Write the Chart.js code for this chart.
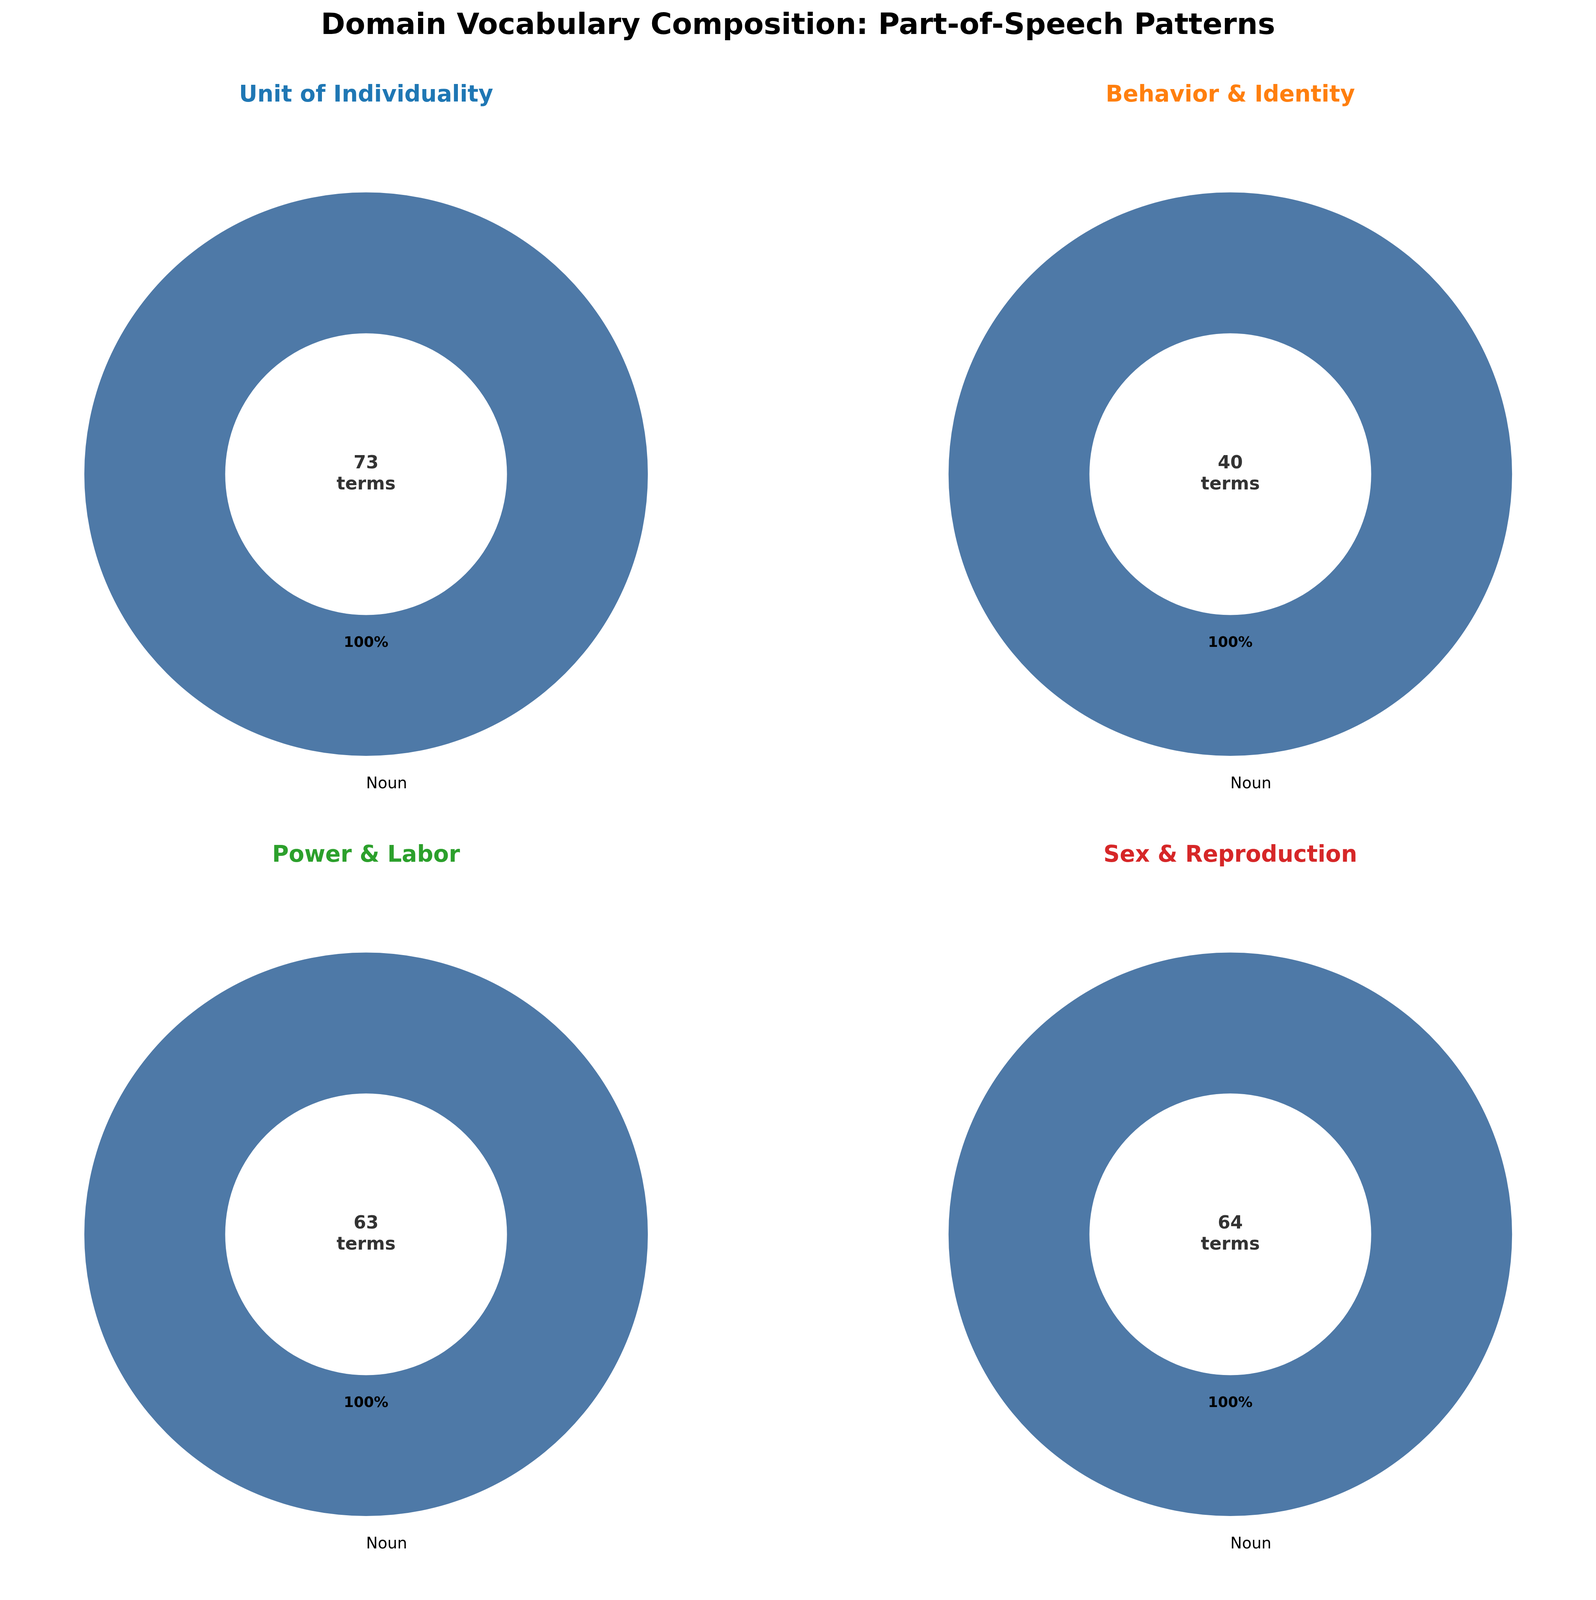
<!DOCTYPE html>
<html>
<head>
<meta charset="utf-8">
<script src="https://cdn.jsdelivr.net/npm/chart.js@4.4.1/dist/chart.umd.min.js"></script>
<style>
  html, body { margin: 0; padding: 0; background: #ffffff; }
  #page { position: relative; width: 4085px; height: 6045px; background: #ffffff; overflow: hidden; }
  #mainTitle {
    position: absolute; left: 0; top: 16px; width: 4085px; text-align: center;
    font-family: "DejaVu Sans", sans-serif; font-weight: bold; font-size: 75px; line-height: 90px; color: #000;
  }
  .panel { position: absolute; width: 1860px; height: 1946px; }
</style>
</head>
<body>
<div id="page">
  <div id="mainTitle">Domain Vocabulary Composition: Part-of-Speech Patterns</div>
</div>
<script>
// data
const domains = ['Unit of Individuality', 'Behavior & Identity', 'Power & Labor',
                 'Sex & Reproduction', 'Kin & Relatedness', 'Economics'];
const domainColors = ['#1f77b4', '#ff7f0e', '#2ca02c', '#d62728', '#9467bd', '#8c564b'];
const posLabels = ['Noun'];
const nounCounts = [73, 40, 63, 64, 57, 10];
const posColors = ['#4e79a7'];

// layout of the 3x2 grid (panel centres)
const colCenters = [937, 3149];
const rowTitleY = [245, 2191, 4137];

// draws the percentage, the outside label and the total in the hole
const donutLabels = {
  id: 'donutLabels',
  afterDatasetsDraw(chart) {
    const ctx = chart.ctx;
    const meta = chart.getDatasetMeta(0);
    const values = chart.data.datasets[0].data;
    const total = values.reduce((a, b) => a + b, 0);
    let cx = 0, cy = 0;
    meta.data.forEach((arc, i) => {
      const p = arc.getProps(['x', 'y', 'startAngle', 'endAngle', 'outerRadius'], true);
      cx = p.x; cy = p.y;
      const mid = (p.startAngle + p.endAngle) / 2;
      const pct = (values[i] / total * 100).toFixed(0) + '%';
      ctx.save();
      ctx.fillStyle = '#000';
      ctx.font = 'bold 37px "DejaVu Sans"';
      ctx.textAlign = 'center';
      ctx.textBaseline = 'middle';
      ctx.fillText(pct, p.x + Math.cos(mid) * p.outerRadius * 0.6, p.y + Math.sin(mid) * p.outerRadius * 0.6);
      const lx = p.x + Math.cos(mid) * p.outerRadius * 1.1;
      const ly = p.y + Math.sin(mid) * p.outerRadius * 1.1;
      ctx.font = '40px "DejaVu Sans"';
      ctx.textAlign = lx >= p.x - 0.5 ? 'left' : 'right';
      ctx.fillText(chart.data.labels[i], lx, ly);
      ctx.restore();
    });
    ctx.save();
    ctx.fillStyle = '#333333';
    ctx.font = 'bold 46px "DejaVu Sans"';
    ctx.textAlign = 'center';
    ctx.textBaseline = 'middle';
    ctx.fillText(String(total), cx, cy - 27);
    ctx.fillText('terms', cx, cy + 27);
    ctx.restore();
  }
};

const page = document.getElementById('page');
domains.forEach((name, i) => {
  const col = i % 2, row = Math.floor(i / 2);
  const holder = document.createElement('div');
  holder.className = 'panel';
  holder.style.left = (colCenters[col] - 930) + 'px';
  holder.style.top = (rowTitleY[row] - 100) + 'px';
  const canvas = document.createElement('canvas');
  holder.appendChild(canvas);
  page.appendChild(holder);

  new Chart(canvas, {
    type: 'doughnut',
    data: {
      labels: posLabels,
      datasets: [{
        data: [nounCounts[i]],
        backgroundColor: posColors,
        borderWidth: 0,
        offset: 0,
        hoverOffset: 0
      }]
    },
    options: {
      responsive: true,
      maintainAspectRatio: false,
      animation: false,
      events: [],
      cutout: '50%',
      layout: { padding: { top: 0, bottom: 156, left: 0, right: 0 } },
      plugins: {
        legend: { display: false },
        tooltip: { enabled: false },
        title: {
          display: true,
          text: name,
          color: domainColors[i],
          font: { family: '"DejaVu Sans"', size: 58, weight: 'bold', lineHeight: 1.2 },
          padding: { top: 65, bottom: 213 }
        }
      }
    },
    plugins: [donutLabels]
  });
});
</script>
</body>
</html>
